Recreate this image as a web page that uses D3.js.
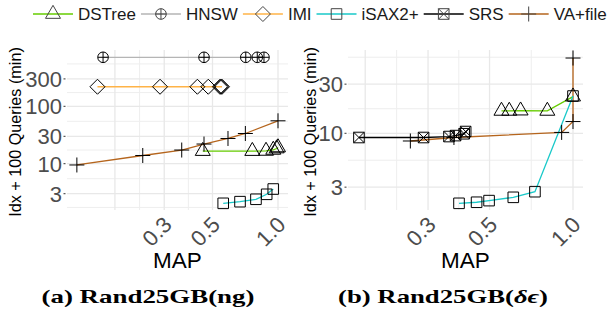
<!DOCTYPE html>
<html><head><meta charset="utf-8">
<script src="https://cdn.jsdelivr.net/npm/d3@7"></script>
<style>body{margin:0;background:#fff}svg{display:block}</style>
</head><body><svg id="c" width="616" height="320"></svg>
<script>
// ---------- data ----------
const seriesNames  = ["DSTree","HNSW","IMI","iSAX2+","SRS","VA+file"];
const seriesColors = ["#66CC00","#B5B5B5","#FFB347","#19C9C9","#000000","#B5651D"];
const seriesShapes = ["triangle","circleplus","diamond","square","squarex","plus"];

// panel (a) Rand25GB(ng): MAP vs Idx + 100 Queries (min)
const a_DSTree_map = [0.451, 0.762, 0.881, 0.951, 0.986, 1.0];
const a_DSTree_min = [16.6, 16.6, 16.7, 17.4, 18.4, 19.2];
const a_HNSW_map   = [0.157, 0.457, 0.711, 0.803, 0.862];
const a_HNSW_min   = [714, 714, 714, 714, 714];
const a_IMI_map    = [0.148, 0.287, 0.426, 0.478, 0.541, 0.547, 0.553];
const a_IMI_min    = [219, 219, 219, 219, 219, 219, 219];
const a_iSAX_map   = [0.56, 0.669, 0.792, 0.887, 0.951];
const a_iSAX_min   = [2.04, 2.18, 2.4, 2.93, 3.62];
const a_VA_map     = [0.119, 0.239, 0.361, 0.457, 0.589, 0.708, 1.0];
const a_VA_min     = [9.5, 13.9, 17.3, 22.0, 27.5, 33.6, 55.9];

// panel (b) Rand25GB(delta-epsilon)
const b_DSTree_map = [0.552, 0.589, 0.647, 0.808, 1.0];
const b_DSTree_min = [16.5, 16.5, 16.6, 16.5, 22.7];
const b_iSAX_map   = [0.388, 0.449, 0.498, 0.609, 0.729, 1.0];
const b_iSAX_min   = [2.09, 2.14, 2.22, 2.39, 2.71, 23.0];
const b_SRS_map    = [0.169, 0.289, 0.357, 0.377, 0.405, 0.41];
const b_SRS_min    = [9.1, 9.1, 9.3, 9.5, 9.9, 10.4];
const b_VA_map     = [0.259, 0.372, 0.91, 1.0, 1.0];
const b_VA_min     = [8.42, 9.1, 10.2, 13.0, 53.8];

// axes
const xTickValues = [0.3, 0.5, 1.0];
const xTickLabels = ["0.3", "0.5", "1.0"];
const xGridMajor  = [0.178, 0.3, 0.5, 1.0];
const a_yTicks    = [3, 10, 30, 100, 300];
const b_yTicks    = [3, 10, 30];
const yGridMajor  = [1, 3, 10, 30, 100, 300, 1000];
const yTitle = "Idx + 100 Queries (min)";
const xTitle = "MAP";

// ---------- drawing ----------
const svg = d3.select("#c");
const FONT = "'Liberation Sans', Arial, Helvetica, sans-serif";

function shapePath(shape) {
  switch (shape) {
    case "triangle": return "M0,-8.66L7.5,4.33L-7.5,4.33Z";
    case "diamond": return "M0,-7.5L7.5,0L0,7.5L-7.5,0Z";
    case "square": return "M-5.3,-5.3H5.3V5.3H-5.3Z";
    case "squarex": return "M-5.3,-5.3H5.3V5.3H-5.3ZM-5.3,-5.3L5.3,5.3M5.3,-5.3L-5.3,5.3";
    case "plus": return "M-7.5,0H7.5M0,-7.5V7.5";
    case "circleplus": return "M5.3,0A5.3,5.3 0 1,1 -5.3,0A5.3,5.3 0 1,1 5.3,0ZM-5.3,0H5.3M0,-5.3V5.3";
  }
}

function geoMid(a, b) { return Math.sqrt(a * b); }

function drawPanel(cfg) {
  const x = d3.scaleLog().domain(cfg.xdom).range([cfg.x0, cfg.x1]);
  const y = d3.scaleLog().domain(cfg.ydom).range([cfg.y1, cfg.y0]);
  const g = svg.append("g");
  // grid
  const xMinor = d3.pairs(xGridMajor).map(p => geoMid(p[0], p[1]));
  const yMinor = d3.pairs(yGridMajor).map(p => geoMid(p[0], p[1]));
  const inX = v => x(v) >= cfg.x0 - 0.5 && x(v) <= cfg.x1 + 0.5;
  const inY = v => y(v) >= cfg.y0 - 0.5 && y(v) <= cfg.y1 + 0.5;
  const grid = g.append("g");
  grid.selectAll(".yminor").data(yMinor.filter(inY)).join("line")
    .attr("x1", cfg.x0).attr("x2", cfg.x1).attr("y1", d => y(d)).attr("y2", d => y(d))
    .attr("stroke", "#EEEEEE").attr("stroke-width", 1);
  grid.selectAll(".xminor").data(xMinor.filter(inX)).join("line")
    .attr("y1", cfg.y0).attr("y2", cfg.y1).attr("x1", d => x(d)).attr("x2", d => x(d))
    .attr("stroke", "#EEEEEE").attr("stroke-width", 1);
  grid.selectAll(".ymajor").data(yGridMajor.filter(inY)).join("line")
    .attr("x1", cfg.x0).attr("x2", cfg.x1).attr("y1", d => y(d)).attr("y2", d => y(d))
    .attr("stroke", "#E8E8E8").attr("stroke-width", 1.3);
  grid.selectAll(".xmajor").data(xGridMajor.filter(inX)).join("line")
    .attr("y1", cfg.y0).attr("y2", cfg.y1).attr("x1", d => x(d)).attr("x2", d => x(d))
    .attr("stroke", "#E8E8E8").attr("stroke-width", 1.3);

  // y axis ticks + labels
  const ya = g.append("g");
  ya.selectAll("line").data(cfg.yTicks).join("line")
    .attr("x1", cfg.x0 - 3.5).attr("x2", cfg.x0 - 1.5)
    .attr("y1", d => y(d)).attr("y2", d => y(d)).attr("stroke", "#333").attr("stroke-width", 1);
  ya.selectAll("text").data(cfg.yTicks).join("text")
    .attr("x", cfg.x0 - 5).attr("y", d => y(d)).attr("dy", "0.36em")
    .attr("text-anchor", "end").attr("font-family", FONT).attr("font-size", 22)
    .attr("fill", "#4D4D4D").text(d => d);
  // x labels rotated
  const xa = g.append("g");
  xa.selectAll("text").data(xTickValues).join("text")
    .attr("transform", d => `translate(${x(d) + 9},${cfg.y1 + 16}) rotate(-45)`)
    .attr("text-anchor", "end").attr("font-family", FONT).attr("font-size", 22)
    .attr("fill", "#4D4D4D").text((d, i) => xTickLabels[i]);
  // titles
  g.append("text").attr("x", (cfg.x0 + cfg.x1) / 2).attr("y", 268)
    .attr("text-anchor", "middle").attr("font-family", FONT).attr("font-size", 22.5)
    .attr("fill", "#000").text(xTitle);
  g.append("text").attr("transform", `translate(${cfg.ytx},132) rotate(-90)`)
    .attr("text-anchor", "middle").attr("font-family", FONT).attr("font-size", 16.2)
    .attr("fill", "#000").text(yTitle);

  // series lines
  const line = d3.line().x(d => x(d[0])).y(d => y(d[1]));
  cfg.series.forEach(s => {
    const pts = s.map.map((m, i) => [m, s.min[i]]);
    g.append("path").datum(pts).attr("d", line).attr("fill", "none")
      .attr("stroke", seriesColors[s.k]).attr("stroke-width", 1.3);
  });
  cfg.series.forEach(s => {
    const pts = s.map.map((m, i) => [m, s.min[i]]);
    g.append("g").selectAll("path").data(pts).join("path")
      .attr("transform", d => `translate(${x(d[0])},${y(d[1])})`)
      .attr("d", shapePath(seriesShapes[s.k])).attr("fill", "none")
      .attr("stroke", "#000").attr("stroke-width", 1);
  });
  // caption
  const cap = svg.append("text").attr("x", cfg.capX).attr("y", 303)
    .attr("text-anchor", "middle").attr("font-family", "'Liberation Serif','DejaVu Serif',serif")
    .attr("font-weight", "bold").attr("font-size", 19)
    .attr("textLength", cfg.capW).attr("lengthAdjust", "spacingAndGlyphs");
  cfg.caption.forEach(p => {
    const t = cap.append("tspan").text(p.t);
    if (p.it) t.attr("font-style", "italic");
  });
}

drawPanel({
  x0: 67, x1: 288, y0: 50, y1: 210,
  xdom: [0.1072, 1.1116], ydom: [1.561, 956.7],
  yTicks: a_yTicks, ytx: 21, capX: 148, capW: 213,
  caption: [{t: "(a) Rand25GB(ng)"}],
  series: [
    {k: 1, map: a_HNSW_map, min: a_HNSW_min},
    {k: 2, map: a_IMI_map, min: a_IMI_min},
    {k: 5, map: a_VA_map, min: a_VA_min},
    {k: 0, map: a_DSTree_map, min: a_DSTree_min},
    {k: 3, map: a_iSAX_map, min: a_iSAX_min}
  ]
});
drawPanel({
  x0: 348, x1: 583, y0: 50, y1: 210,
  xdom: [0.1543, 1.0866], ydom: [1.800, 64.37],
  yTicks: b_yTicks, ytx: 316, capX: 443, capW: 210,
  caption: [{t: "(b) Rand25GB("}, {t: "δϵ", it: true}, {t: ")"}],
  series: [
    {k: 4, map: b_SRS_map, min: b_SRS_min},
    {k: 5, map: b_VA_map, min: b_VA_min},
    {k: 0, map: b_DSTree_map, min: b_DSTree_min},
    {k: 3, map: b_iSAX_map, min: b_iSAX_min}
  ]
});

// legend
const leg = svg.append("g");
let lx = 33;
seriesNames.forEach((name, k) => {
  const it = leg.append("g");
  it.append("line").attr("x1", lx).attr("x2", lx + 40).attr("y1", 14).attr("y2", 14)
    .attr("stroke", seriesColors[k]).attr("stroke-width", 1.6);
  it.append("path").attr("transform", `translate(${lx + 20},14)`)
    .attr("d", shapePath(seriesShapes[k])).attr("fill", "none")
    .attr("stroke", "#444").attr("stroke-width", 1);
  const t = it.append("text").attr("x", lx + 45).attr("y", 20)
    .attr("font-family", FONT).attr("font-size", 17).attr("fill", "#1a1a1a").text(name);
  lx += 45 + t.node().getComputedTextLength() + 5;
});
</script></body></html>
